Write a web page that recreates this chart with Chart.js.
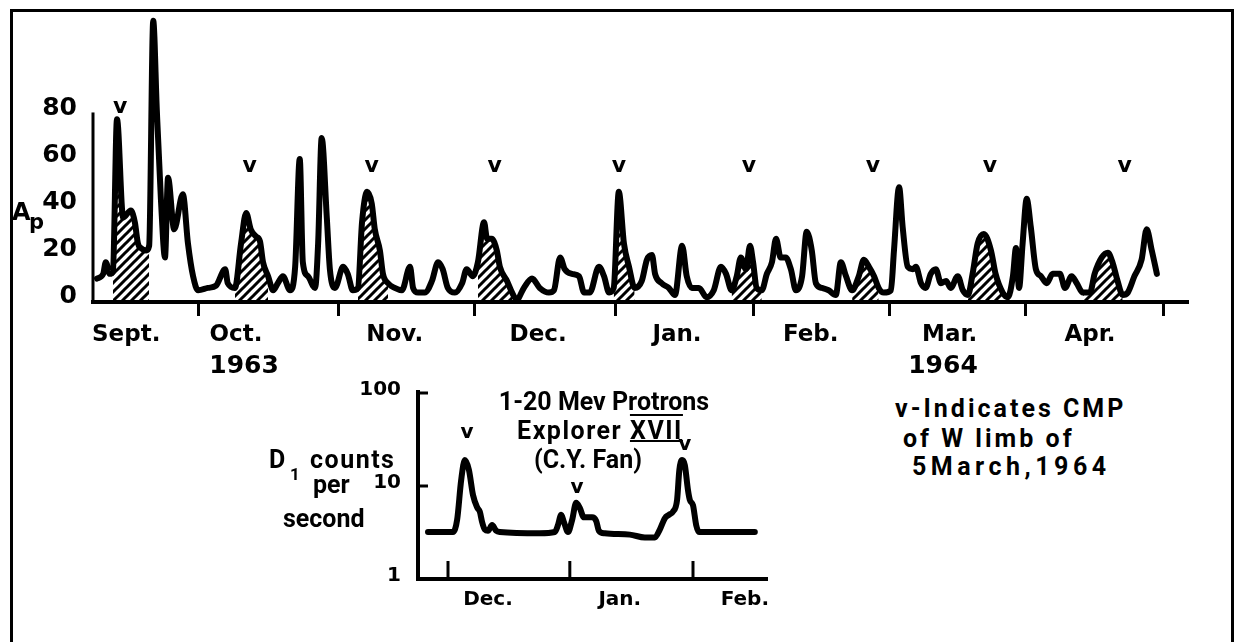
<!DOCTYPE html>
<html>
<head>
<meta charset="utf-8">
<script src="https://cdn.jsdelivr.net/npm/chart.js@4.4.1/dist/chart.umd.min.js"></script>
<style>
  html, body { margin: 0; padding: 0; background: #fff; width: 1241px; height: 642px; overflow: hidden; position: relative; }
  .frame { position: absolute; left: 10px; top: 9px; width: 1218px; height: 700px; border: 3px solid #000; border-bottom: none; }
  canvas { position: absolute; }
  .t { position: absolute; font-family: Roboto, sans-serif; font-weight: 700; font-size: 25px; line-height: 25px; color: #000; white-space: nowrap; }
  .d { font-family: "DejaVu Sans", sans-serif; }
</style>
</head>
<body>
<div class="frame"></div>
<canvas id="main" width="1241" height="390" style="left:0;top:0"></canvas>
<canvas id="inset" width="520" height="250" style="left:260px;top:370px"></canvas>

<!-- textes -->
<div class="t d" style="left:12px;top:200px;font-size:24px">A</div>
<div class="t d" style="left:29px;top:210px;font-size:21px">p</div>

<div class="t" style="left:454px;top:389px;width:300px;text-align:center">1-20 Mev Protrons</div>
<div class="t" style="left:450px;top:418px;width:300px;text-align:center;letter-spacing:1.5px">Explorer <span style="text-decoration:underline overline;text-decoration-thickness:2px">XVII</span></div>
<div class="t" style="left:438px;top:447px;width:300px;text-align:center">(C.Y. Fan)</div>

<div class="t" style="left:269px;top:447px">D</div>
<div class="t" style="left:290px;top:462px;font-size:17px">1</div>
<div class="t" style="left:310px;top:447px;letter-spacing:1.5px">counts</div>
<div class="t" style="left:313px;top:472px">per</div>
<div class="t" style="left:283px;top:506px">second</div>

<div class="t" style="left:895px;top:396px;letter-spacing:3px">v-Indicates CMP</div>
<div class="t" style="left:903px;top:426px;letter-spacing:3px">of W limb of</div>
<div class="t" style="left:912px;top:454px;letter-spacing:4.5px">5March,1964</div>

<script>
/* ── Données : indice Ap (jours depuis le début de l'axe) ── */
const apDays = [
  0.8, 2.0, 2.5, 3.3, 3.9, 4.7, 5.9, 7.4, 8.2, 8.8,
  9.4, 10.4, 11.0, 11.8, 12.5, 13.3, 14.1, 14.7, 15.9, 17.6,
  18.6, 19.6, 20.6, 22.5, 24.1, 25.9, 26.4, 27.8, 29.0, 30.0,
  30.9, 31.9, 32.7, 33.3, 34.3, 35.3, 36.2, 37.2, 38.6, 39.6,
  40.5, 41.1, 42.1, 43.5, 44.1, 44.8, 45.8, 46.4, 47.4, 49.0,
  49.9, 50.9, 51.9, 52.7, 53.7, 54.6, 55.2, 56.2, 56.8, 57.8,
  59.1, 60.5, 62.1, 62.7, 63.7, 65.0, 66.4, 67.6, 68.5, 69.5,
  70.9, 72.3, 73.2, 74.4, 75.4, 76.6, 77.2, 78.1, 79.1, 79.7,
  81.1, 82.1, 83.0, 84.4, 86.0, 87.5, 89.3, 90.3, 91.5, 92.4,
  93.8, 95.2, 96.2, 97.3, 99.1, 100.1, 101.1, 102.0, 103.0, 104.0,
  105.0, 106.1, 107.5, 108.5, 109.5, 110.1, 111.4, 112.8, 114.0, 115.4,
  116.3, 117.3, 118.7, 120.2, 121.6, 123.0, 124.0, 125.1, 126.1, 126.9,
  127.9, 128.7, 129.3, 130.0, 131.0, 132.0, 133.0, 133.8, 134.7, 135.7,
  136.7, 137.7, 138.9, 139.8, 140.8, 141.6, 142.8, 144.1, 145.5, 146.5,
  147.5, 148.7, 150.0, 151.0, 152.0, 153.0, 153.9, 154.9, 156.3, 156.9,
  157.9, 158.6, 159.6, 160.6, 161.2, 162.2, 163.1, 164.1, 165.1, 166.1,
  167.1, 168.0, 169.4, 170.4, 171.4, 172.3, 173.3, 174.5, 175.9, 176.8,
  178.2, 179.2, 180.2, 180.8, 181.4, 182.1, 182.9, 183.7, 184.7, 185.7,
  186.8, 188.0, 189.4, 190.4, 191.7, 192.7, 193.9, 195.3, 196.2, 197.6,
  198.8, 199.7, 200.7, 201.7, 202.7, 204.0, 205.4, 206.4, 207.4, 208.4
];
const apValues = [
  10, 12, 17, 12, 13, 78, 36, 39, 34, 25,
  23, 22, 24, 120, 82, 44, 19, 53, 31, 46,
  25, 11, 5, 6, 7, 14, 8, 6, 25, 38,
  31, 28, 26, 17, 11, 5, 8, 11, 5, 15,
  61, 17, 11, 6, 25, 70, 36, 14, 6, 15,
  12, 5, 6, 34, 47, 42, 31, 22, 12, 8,
  6, 5, 15, 6, 4, 4, 9, 17, 14, 6,
  4, 8, 14, 11, 17, 34, 27, 27, 22, 15,
  9, 4, 1, 6, 10, 6, 4, 5, 19, 14,
  12, 11, 4, 4, 15, 11, 4, 6, 47, 25,
  15, 6, 9, 18, 20, 12, 8, 6, 3, 24,
  11, 6, 6, 2, 5, 15, 12, 5, 11, 19,
  14, 24, 17, 6, 5, 12, 17, 27, 19, 19,
  14, 5, 11, 30, 22, 8, 6, 5, 3, 17,
  11, 5, 11, 18, 15, 11, 6, 4, 5, 22,
  49, 32, 15, 14, 15, 8, 6, 12, 14, 8,
  9, 6, 11, 5, 3, 12, 25, 29, 22, 12,
  4, 2, 11, 23, 6, 25, 44, 32, 14, 11,
  8, 12, 12, 6, 11, 8, 4, 4, 12, 19,
  21, 17, 9, 3, 4, 11, 18, 31, 22, 12
];

// intervalles hachurés [début, fin] en jours
const hatchRanges = [
  [3.9, 11.0], [27.8, 34.3], [51.9, 57.8], [75.4, 82.1], [102.0, 106.1],
  [125.1, 131.0], [148.7, 153.9], [171.4, 178.2], [193.9, 201.7]
];

const yTicks      = [0, 20, 40, 60, 80];
const tickDays    = [20.6, 48.0, 74.8, 102.4, 129.3, 156.1, 182.7, 209.6];
const monthLabels = ['Sept.', 'Oct.', 'Nov.', 'Dec.', 'Jan.', 'Feb.', 'Mar.', 'Apr.'];
const monthDays   = [6.5, 28.0, 59.1, 87.2, 114.4, 140.6, 167.8, 195.3];
const yearLabels  = ['1963', '1964'];
const yearDays    = [29.6, 166.5];
const vDays       = [5.3, 30.7, 54.6, 78.7, 103.0, 128.5, 152.8, 175.7, 202.1];
const vLevels     = [83, 58, 58, 58, 58, 58, 58, 58, 58];

/* ── Données : encart protons (comptes par seconde) ── */
const insetDays = [
  2.2, 7.7, 8.6, 9.5, 10.3, 11.2, 12.1, 13.0, 13.6, 14.1,
  14.7, 15.4, 16.3, 17.2, 18.0, 26.8, 30.1, 30.8, 31.5, 32.1,
  33.0, 33.9, 34.8, 35.6, 36.5, 38.3, 39.2, 39.8, 41.1, 46.6,
  49.9, 52.1, 53.2, 54.3, 55.2, 56.1, 57.0, 57.5, 58.1, 58.7,
  59.4, 59.8, 60.5, 61.2, 61.8, 64.2, 74.1
];
const insetCounts = [
  3.2, 3.2, 4.3, 11.6, 19.0, 14.9, 8.0, 5.9, 5.3, 4.1,
  3.4, 3.3, 3.8, 3.3, 3.2, 3.1, 3.2, 3.8, 4.9, 4.1,
  3.2, 4.3, 6.6, 5.8, 4.6, 4.6, 4.2, 3.3, 3.1, 3.0,
  2.8, 2.8, 3.4, 4.5, 4.9, 5.3, 7.1, 14.9, 19.0, 16.8,
  9.0, 7.1, 6.2, 3.8, 3.2, 3.2, 3.2
];
const insetYTicks      = [1, 10, 100];
const insetTickDays    = [6.6, 33.4, 60.5];
const insetMonthLabels = ['Dec.', 'Jan.', 'Feb.'];
const insetMonthDays   = [15.4, 44.4, 71.9];
const insetVDays       = [10.8, 35.0, 58.7];
const insetVLevels     = [37, 9.5, 28];

/* ── Motif de hachures ── */
function hatchPattern() {
  const c = document.createElement('canvas');
  c.width = c.height = 9;
  const g = c.getContext('2d');
  g.strokeStyle = '#000';
  g.lineWidth = 3;
  g.beginPath();
  g.moveTo(-2, 2); g.lineTo(2, -2);
  g.moveTo(0, 9); g.lineTo(9, 0);
  g.moveTo(7, 11); g.lineTo(11, 7);
  g.stroke();
  return g.createPattern(c, 'repeat');
}

const apPoints = apDays.map((d, i) => ({ x: d, y: apValues[i] }));
const pattern = hatchPattern();

const hatchSets = hatchRanges.map(([a, b]) => ({
  data: apPoints.filter(p => p.x >= a && p.x <= b),
  fill: 'origin',
  backgroundColor: pattern,
  borderColor: 'rgba(0,0,0,0)',
  borderWidth: 0,
  pointRadius: 0,
  cubicInterpolationMode: 'monotone',
}));

// pas de marge automatique due aux étiquettes
function noPad(s) {
  s.paddingTop = 0; s.paddingBottom = 0;
  s.paddingLeft = 0; s.paddingRight = 0;
}

/* ── Décor du graphe principal ── */
const mainDecor = {
  id: 'mainDecor',
  afterDraw(chart) {
    const { ctx, chartArea, scales: { x, y } } = chart;
    ctx.save();
    ctx.strokeStyle = '#000';
    ctx.lineWidth = 3;
    ctx.beginPath();
    ctx.moveTo(chartArea.left, y.getPixelForValue(0) + 1);
    ctx.lineTo(chartArea.left, y.getPixelForValue(80) - 2);
    ctx.stroke();

    ctx.fillStyle = '#000';
    ctx.textAlign = 'center';
    ctx.textBaseline = 'middle';
    ctx.font = 'bold 23px "DejaVu Sans"';
    monthLabels.forEach((m, i) => ctx.fillText(m, x.getPixelForValue(monthDays[i]), chartArea.bottom + 33));
    ctx.font = 'bold 25px "DejaVu Sans"';
    yearLabels.forEach((t, i) => ctx.fillText(t, x.getPixelForValue(yearDays[i]), chartArea.bottom + 64));
    ctx.font = 'bold 22px "DejaVu Sans"';
    vDays.forEach((d, i) => ctx.fillText('v', x.getPixelForValue(d), y.getPixelForValue(vLevels[i])));
    ctx.restore();
  }
};

new Chart(document.getElementById('main'), {
  type: 'line',
  data: {
    datasets: [{
      data: apPoints,
      borderColor: '#000',
      borderWidth: 6,
      borderJoinStyle: 'round',
      borderCapStyle: 'round',
      pointRadius: 0,
      fill: false,
      clip: false,
      cubicInterpolationMode: 'monotone',
    }, ...hatchSets]
  },
  options: {
    responsive: false,
    animation: false,
    layout: { padding: { left: 0, right: 54, top: 16, bottom: 0 } },
    plugins: { legend: { display: false }, tooltip: { enabled: false } },
    scales: {
      x: {
        type: 'linear', min: 0, max: 214.3,
        afterFit: s => { noPad(s); s.height = 88; },
        afterBuildTicks: s => { s.ticks = tickDays.map(v => ({ value: v })); },
        ticks: { display: false },
        grid: { drawOnChartArea: false, drawTicks: true, tickLength: 14, lineWidth: 3, color: '#000' },
        border: { display: true, width: 4, color: '#000' },
      },
      y: {
        type: 'linear', min: 0, max: 122,
        afterFit: s => { noPad(s); s.width = 93; },
        afterBuildTicks: s => { s.ticks = yTicks.map(v => ({ value: v })); },
        ticks: { color: '#000', padding: 16, labelOffset: -6, font: { family: 'DejaVu Sans', weight: 'bold', size: 25 } },
        grid: { display: false, drawTicks: false },
        border: { display: false },
      }
    }
  },
  plugins: [mainDecor]
});

/* ── Décor de l'encart ── */
const insetDecor = {
  id: 'insetDecor',
  afterDraw(chart) {
    const { ctx, chartArea: a, scales: { x, y } } = chart;
    const base = y.getPixelForValue(1);
    ctx.save();
    ctx.strokeStyle = '#000';
    ctx.lineWidth = 4;
    ctx.beginPath();
    ctx.moveTo(a.left, y.getPixelForValue(100) - 3);
    ctx.lineTo(a.left, base);
    ctx.lineTo(a.right, base);
    ctx.stroke();

    ctx.lineWidth = 3;
    insetYTicks.slice(1).forEach(v => {
      const py = y.getPixelForValue(v);
      ctx.beginPath(); ctx.moveTo(a.left, py); ctx.lineTo(a.left + 10, py); ctx.stroke();
    });
    insetTickDays.forEach(d => {
      const px = x.getPixelForValue(d);
      ctx.beginPath(); ctx.moveTo(px, base); ctx.lineTo(px, base - 18); ctx.stroke();
    });

    ctx.fillStyle = '#000';
    ctx.textAlign = 'center';
    ctx.textBaseline = 'middle';
    ctx.font = 'bold 20px "DejaVu Sans"';
    insetMonthLabels.forEach((m, i) => ctx.fillText(m, x.getPixelForValue(insetMonthDays[i]), base + 21));
    insetVDays.forEach((d, i) => ctx.fillText('v', x.getPixelForValue(d), y.getPixelForValue(insetVLevels[i])));
    ctx.restore();
  }
};

new Chart(document.getElementById('inset'), {
  type: 'line',
  data: {
    datasets: [{
      data: insetDays.map((d, i) => ({ x: d, y: insetCounts[i] })),
      borderColor: '#000',
      borderWidth: 6,
      borderJoinStyle: 'round',
      borderCapStyle: 'round',
      pointRadius: 0,
      fill: false,
      clip: false,
      cubicInterpolationMode: 'monotone',
    }]
  },
  options: {
    responsive: false,
    animation: false,
    layout: { padding: { left: 0, right: 12, top: 23, bottom: 0 } },
    plugins: { legend: { display: false }, tooltip: { enabled: false } },
    scales: {
      x: {
        type: 'linear', min: 0, max: 77,
        afterFit: s => { noPad(s); s.height = 41; },
        ticks: { display: false },
        grid: { display: false, drawTicks: false },
        border: { display: false },
      },
      y: {
        type: 'logarithmic', min: 1, max: 100,
        afterFit: s => { noPad(s); s.width = 158; },
        afterBuildTicks: s => { s.ticks = insetYTicks.map(v => ({ value: v })); },
        ticks: { color: '#000', padding: 17, labelOffset: -3, callback: v => String(v), font: { family: 'DejaVu Sans', weight: 'bold', size: 20 } },
        grid: { display: false, drawTicks: false },
        border: { display: false },
      }
    }
  },
  plugins: [insetDecor]
});
</script>
</body>
</html>
